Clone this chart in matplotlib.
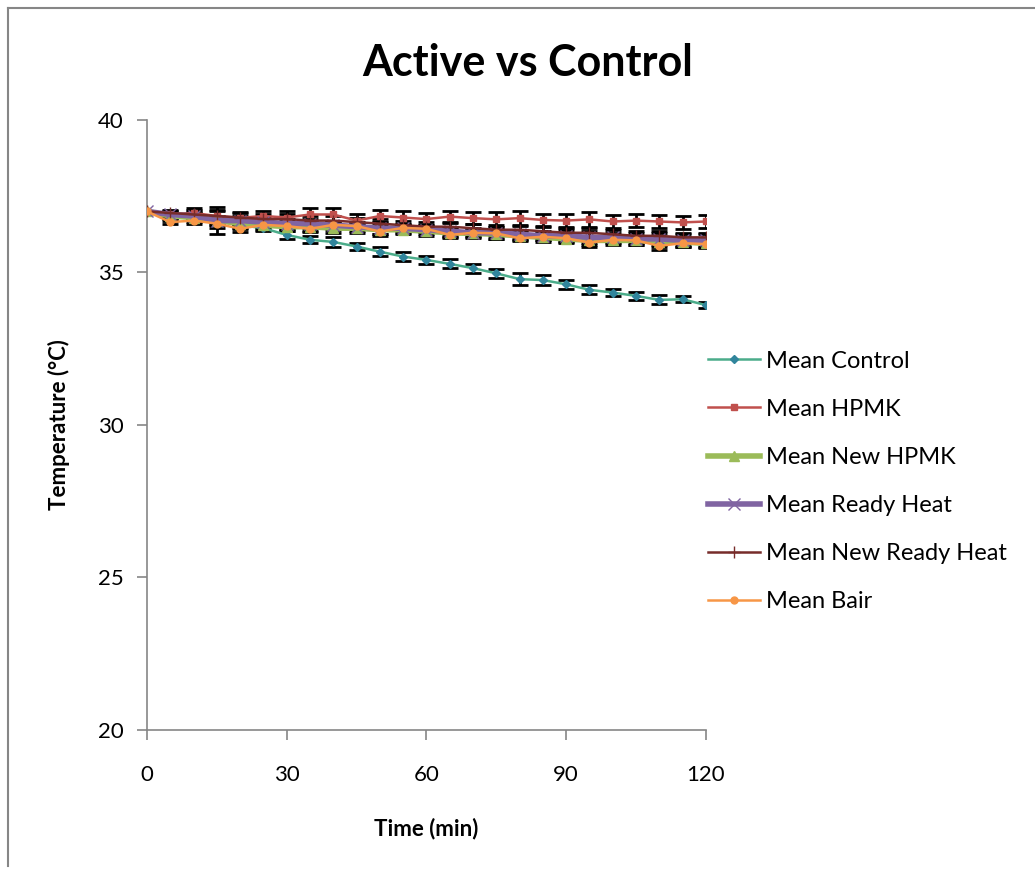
import matplotlib.pyplot as plt
from matplotlib.lines import Line2D

time_min = [0, 5, 10, 15, 20, 25, 30, 35, 40, 45, 50, 55, 60,
            65, 70, 75, 80, 85, 90, 95, 100, 105, 110, 115, 120]

control = [37.0, 36.85, 36.95, 36.7, 36.55, 36.45, 36.23, 36.07, 36.0, 35.85, 35.68, 35.52, 35.41,
           35.28, 35.14, 34.97, 34.78, 34.75, 34.61, 34.43, 34.34, 34.23, 34.1, 34.12, 33.93]
control_err = [0.0, 0.05, 0.1, 0.15, 0.12, 0.1, 0.12, 0.12, 0.15, 0.12, 0.15, 0.15, 0.12,
               0.15, 0.15, 0.15, 0.2, 0.15, 0.15, 0.15, 0.12, 0.12, 0.15, 0.1, 0.1]

hpmk = [37.0, 36.9, 36.95, 36.85, 36.79, 36.85, 36.8, 36.9, 36.9, 36.7, 36.85, 36.8, 36.75,
        36.83, 36.78, 36.74, 36.78, 36.72, 36.7, 36.74, 36.67, 36.7, 36.67, 36.64, 36.67]
hpmk_err = [0.0, 0.1, 0.15, 0.2, 0.2, 0.15, 0.2, 0.2, 0.2, 0.2, 0.2, 0.2, 0.2,
            0.2, 0.2, 0.25, 0.25, 0.2, 0.2, 0.25, 0.2, 0.2, 0.2, 0.2, 0.2]

new_hpmk = [37.0, 36.85, 36.8, 36.7, 36.6, 36.55, 36.5, 36.5, 36.45, 36.45, 36.4, 36.4, 36.35,
            36.3, 36.28, 36.25, 36.2, 36.15, 36.1, 36.05, 36.05, 36.05, 36.0, 36.0, 35.95]
new_hpmk_err = [0.0, 0.1, 0.15, 0.15, 0.15, 0.15, 0.15, 0.15, 0.15, 0.15, 0.15, 0.15, 0.15,
                0.15, 0.15, 0.15, 0.15, 0.15, 0.15, 0.15, 0.15, 0.15, 0.15, 0.15, 0.15]

ready_heat = [37.0, 36.9, 36.85, 36.7, 36.7, 36.65, 36.6, 36.6, 36.55, 36.5, 36.45, 36.45, 36.4,
              36.35, 36.3, 36.3, 36.25, 36.2, 36.2, 36.15, 36.15, 36.1, 36.1, 36.05, 36.05]
ready_heat_err = [0.0, 0.1, 0.1, 0.45, 0.15, 0.15, 0.15, 0.15, 0.15, 0.15, 0.2, 0.15, 0.15,
                  0.15, 0.15, 0.2, 0.15, 0.15, 0.2, 0.2, 0.15, 0.2, 0.2, 0.2, 0.2]

new_ready_heat = [37.0, 36.95, 36.9, 36.85, 36.8, 36.75, 36.75, 36.7, 36.7, 36.65, 36.6, 36.55, 36.5,
                  36.5, 36.45, 36.4, 36.4, 36.35, 36.3, 36.3, 36.25, 36.2, 36.2, 36.15, 36.15]
new_ready_heat_err = [0.0, 0.1, 0.1, 0.15, 0.15, 0.15, 0.15, 0.15, 0.15, 0.15, 0.15, 0.15, 0.15,
                      0.15, 0.15, 0.15, 0.15, 0.15, 0.15, 0.15, 0.15, 0.15, 0.15, 0.15, 0.15]

bair = [37.0, 36.65, 36.7, 36.6, 36.43, 36.56, 36.52, 36.43, 36.56, 36.52, 36.34, 36.46, 36.43,
        36.23, 36.3, 36.28, 36.12, 36.17, 36.12, 35.98, 36.07, 36.05, 35.87, 35.96, 35.93]
bair_err = [0.0, 0.05, 0.1, 0.15, 0.1, 0.1, 0.1, 0.1, 0.1, 0.1, 0.15, 0.1, 0.1,
            0.1, 0.1, 0.1, 0.1, 0.1, 0.1, 0.15, 0.1, 0.1, 0.12, 0.1, 0.1]

labels = ['Mean Control', 'Mean HPMK', 'Mean New HPMK', 'Mean Ready Heat',
          'Mean New Ready Heat', 'Mean Bair']

plt.rcParams['font.family'] = ['Lato', 'DejaVu Sans']

fig = plt.figure(figsize=(10.35, 8.69), dpi=100)
ax = fig.add_axes([0.142, 0.16, 0.54, 0.702])

series = [
    (control, control_err, '#4BAC8A', 'D', '#31859C', 1.8, 4),
    (hpmk, hpmk_err, '#C0504D', 's', '#C0504D', 1.8, 4.5),
    (new_hpmk, new_hpmk_err, '#9BBB59', '^', '#9BBB59', 4, 7),
    (ready_heat, ready_heat_err, '#8064A2', 'x', '#8064A2', 4, 8),
    (new_ready_heat, new_ready_heat_err, '#772C2A', '+', '#772C2A', 1.8, 8),
    (bair, bair_err, '#F79646', 'o', '#F79646', 1.8, 5),
]

handles = []
for (vals, errs, col, mk, mcol, lw, ms), lab in zip(series, labels):
    ax.errorbar(time_min, vals, yerr=errs, fmt='none', ecolor='black',
                elinewidth=2, capsize=6, capthick=2, zorder=2)
for (vals, errs, col, mk, mcol, lw, ms), lab in zip(series, labels):
    ax.plot(time_min, vals, color=col, lw=lw, marker=mk, ms=ms,
            markerfacecolor=mcol, markeredgecolor=mcol, zorder=3)
    handles.append(Line2D([], [], color=col, lw=lw, marker=mk, ms=ms,
                          markerfacecolor=mcol, markeredgecolor=mcol, label=lab))

ax.set_xlim(0, 120)
ax.set_ylim(20, 40)
ax.set_xticks([0, 30, 60, 90, 120])
ax.set_yticks([20, 25, 30, 35, 40])
for s in ['top', 'right']:
    ax.spines[s].set_visible(False)
for s in ['left', 'bottom']:
    ax.spines[s].set_color('#868686')
    ax.spines[s].set_linewidth(1.2)
ax.tick_params(axis='both', colors='#868686', labelcolor='black', labelsize=16,
               length=7, width=1.2, direction='out')
ax.tick_params(axis='x', pad=18)
ax.tick_params(axis='y', pad=10)
ax.set_xlabel('Time (min)', fontsize=16, fontweight='bold', labelpad=24)
ax.set_ylabel('Temperature (\u00b0C)', fontsize=16, fontweight='bold', labelpad=20)

fig.suptitle('Active vs Control', fontsize=31, fontweight='bold', x=0.51, y=0.95)

fig.legend(handles=handles, loc='center left', bbox_to_anchor=(0.684, 0.446),
           frameon=False, fontsize=17, handlelength=2.2, handletextpad=0.25,
           labelspacing=1.15, borderpad=0, borderaxespad=0)

# outer chart border
fig.add_artist(Line2D([8 / 1035, 8 / 1035], [1 - 8 / 869, 1 - 866 / 869],
                      transform=fig.transFigure, color='#868686', lw=1.5))
fig.add_artist(Line2D([8 / 1035, 1.0], [1 - 8 / 869, 1 - 8 / 869],
                      transform=fig.transFigure, color='#868686', lw=1.5))

fig.savefig('out.png', dpi=100)
